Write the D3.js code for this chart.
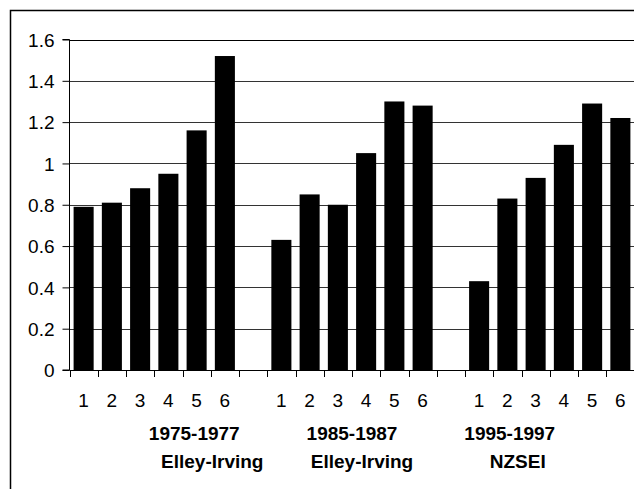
<!DOCTYPE html>
<html>
<head>
<meta charset="utf-8">
<script src="https://cdn.jsdelivr.net/npm/d3@7"></script>
<style>
html,body{margin:0;padding:0;background:#fff;}
svg{display:block;}
text{font-family:"Liberation Sans",Arial,sans-serif;fill:#000;}
</style>
</head>
<body>
<svg id="chart" width="634" height="489"></svg>
<script>
// ---- data ----
const groups = ["1975-1977 Elley-Irving", "1985-1987 Elley-Irving", "1995-1997 NZSEI"];
const groupLines = [["1975-1977", "Elley-Irving"], ["1985-1987", "Elley-Irving"], ["1995-1997", "NZSEI"]];
const deciles = ["1", "2", "3", "4", "5", "6"];
const values1975 = [0.79, 0.81, 0.88, 0.95, 1.16, 1.52];
const values1985 = [0.63, 0.85, 0.80, 1.05, 1.30, 1.28];
const values1995 = [0.43, 0.83, 0.93, 1.09, 1.29, 1.22];
const yTicks = [0, 0.2, 0.4, 0.6, 0.8, 1, 1.2, 1.4, 1.6];

const seriesValues = [values1975, values1985, values1995];

// build category slots: 6 bars, blank, 6 bars, blank, 6 bars
const slots = [];
groups.forEach((g, gi) => {
  deciles.forEach((d, di) => slots.push({key: gi + "-" + d, group: gi, label: d, value: seriesValues[gi][di]}));
  if (gi < groups.length - 1) slots.push({key: "gap" + gi, group: gi, label: "", value: null});
});

const svg = d3.select("#chart");
const m = {left: 69.5, top: 39.5, right: 634, bottom: 370};

const x = d3.scaleBand().domain(slots.map(s => s.key)).range([m.left, 634.5]).paddingInner(0.29).paddingOuter(0.145);
const xs = d3.scaleBand().domain(slots.map(s => s.key)).range([m.left, 634.5]);
const y = d3.scaleLinear().domain([0, 1.6]).range([m.bottom, m.top]);

// frame
svg.append("path").attr("d", "M10.5,489 V10.5 H634").attr("fill", "none").attr("stroke", "#000").attr("stroke-width", 1.5);

// gridlines
svg.append("g").selectAll("line").data(yTicks.filter(t => t > 0)).join("line")
  .attr("x1", m.left).attr("x2", 634)
  .attr("y1", d => Math.round(y(d)) + 0.5).attr("y2", d => Math.round(y(d)) + 0.5)
  .attr("stroke", d => d === 1.6 ? "#000" : "#333").attr("stroke-width", 1);

// bars
svg.append("g").selectAll("rect").data(slots.filter(s => s.value !== null)).join("rect")
  .attr("x", d => x(d.key)).attr("width", x.bandwidth())
  .attr("y", d => y(d.value)).attr("height", d => y(0) - y(d.value))
  .attr("fill", "#000");

// y axis
const yAxis = d3.axisLeft(y).tickValues(yTicks).tickSize(7).tickPadding(8).tickFormat(d => d3.format("")(+d.toFixed(1)));
const ga = svg.append("g").attr("transform", `translate(${m.left},0)`).call(yAxis);
ga.select(".domain").attr("stroke", "#000").attr("d", `M-7,${y(0)}H0V${y(1.6)}H-7`);
ga.selectAll(".tick line").attr("stroke", "#000");
ga.selectAll(".tick text").attr("font-size", 19).attr("font-family", "Liberation Sans, Arial, sans-serif").attr("fill", "#000").attr("dy", "0.36em");

// x axis: tick marks at slot boundaries
const boundaries = slots.map(s => xs(s.key)).concat([xs(slots[slots.length - 1].key) + xs.bandwidth()]);
svg.append("line").attr("x1", m.left).attr("x2", 634).attr("y1", y(0) + 0.5).attr("y2", y(0) + 0.5).attr("stroke", "#000");
svg.append("g").selectAll("line").data(boundaries).join("line")
  .attr("x1", d => Math.round(d) + 0.5).attr("x2", d => Math.round(d) + 0.5)
  .attr("y1", y(0)).attr("y2", y(0) + 7).attr("stroke", "#000");

// x tick labels
svg.append("g").selectAll("text").data(slots.filter(s => s.label)).join("text")
  .attr("x", d => xs(d.key) + xs.bandwidth() / 2).attr("y", 407)
  .attr("text-anchor", "middle").attr("font-size", 19).text(d => d.label);

// group labels
const lineOffsets = [[40, 58], [0, 10], [-40, -32]];
groupLines.forEach((lines, gi) => {
  const first = xs(gi + "-1"), last = xs(gi + "-6") + xs.bandwidth();
  const c = (first + last) / 2;
  lines.forEach((t, li) => {
    svg.append("text").attr("x", c + lineOffsets[gi][li]).attr("y", 440 + li * 28)
      .attr("text-anchor", "middle").attr("font-size", 19).attr("font-weight", "bold").text(t);
  });
});
</script>
</body>
</html>
